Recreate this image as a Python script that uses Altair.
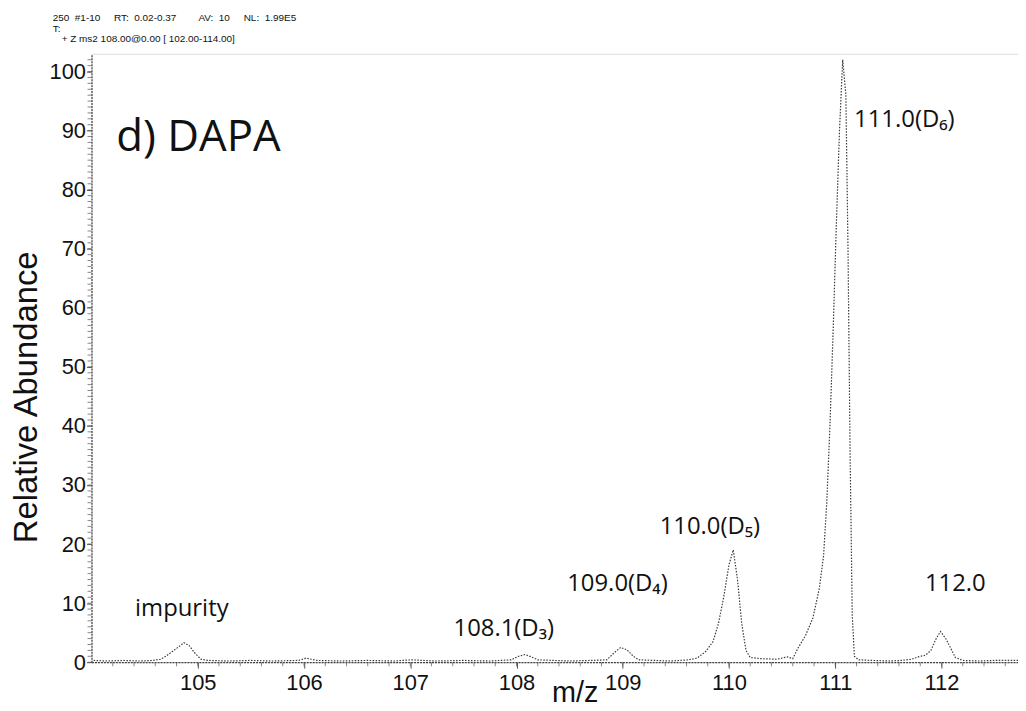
import altair as alt
import pandas as pd

# ---- profile spectrum (m/z, relative abundance) ----
mz = [104.02, 104.15, 104.3, 104.45, 104.58, 104.65, 104.7, 104.76, 104.82, 104.87,
      104.92, 104.97, 105.03, 105.1, 105.3, 105.5, 105.7, 105.95, 106.02, 106.07,
      106.12, 106.35, 106.6, 106.85, 107.0, 107.25, 107.5, 107.75, 107.95, 108.02,
      108.08, 108.14, 108.2, 108.35, 108.5, 108.7, 108.85, 108.92, 108.98, 109.04,
      109.1, 109.15, 109.3, 109.45, 109.62, 109.7, 109.78, 109.85, 109.9, 109.95,
      110.0, 110.04, 110.08, 110.12, 110.16, 110.2, 110.3, 110.45, 110.55, 110.6,
      110.65, 110.72, 110.79, 110.85, 110.89, 110.92, 110.95, 110.98, 111.01, 111.04,
      111.07, 111.1, 111.12, 111.14, 111.16, 111.18, 111.22, 111.35, 111.5, 111.62,
      111.72, 111.78, 111.85, 111.9, 111.95, 111.99, 112.04, 112.08, 112.13, 112.2,
      112.35, 112.5, 112.72]
abundance = [0.3, 0.2, 0.3, 0.2, 0.3, 0.5, 1.0, 1.8, 2.6, 3.3,
             2.8, 1.6, 0.5, 0.3, 0.2, 0.3, 0.2, 0.3, 0.7, 0.5,
             0.3, 0.2, 0.3, 0.2, 0.4, 0.2, 0.3, 0.2, 0.4, 1.0,
             1.3, 0.9, 0.4, 0.3, 0.2, 0.3, 0.4, 1.6, 2.5, 2.1,
             1.0, 0.4, 0.3, 0.2, 0.4, 0.7, 1.8, 3.5, 6.5, 11.0,
             16.5, 19.0, 14.0, 6.5, 2.0, 0.8, 0.6, 0.5, 0.9, 0.6,
             2.4, 4.5, 7.5, 12.5, 18.0, 27.0, 40.0, 56.0, 74.0, 90.0,
             102.0, 96.0, 70.0, 35.0, 8.0, 1.0, 0.4, 0.3, 0.2, 0.3,
             0.5, 0.9, 1.2, 2.0, 4.0, 5.2, 4.0, 2.6, 0.8, 0.3,
             0.2, 0.3, 0.3]

# ---- peak annotations ----
label_text = ["impurity", "108.1(D\u2083)", "109.0(D\u2084)", "110.0(D\u2085)", "111.0(D\u2086)", "112.0"]
label_mz = [104.85, 107.88, 108.95, 109.82, 111.65, 112.13]
label_ab = [7.9, 4.4, 12.1, 21.7, 90.6, 12.1]

# ---- axis ticks ----
x_major = [105, 106, 107, 108, 109, 110, 111, 112]
y_major = [0, 10, 20, 30, 40, 50, 60, 70, 80, 90, 100]
x_minor = [round(104.2 + 0.2 * i, 1) for i in range(43)]
y_minor = list(range(0, 103))

NB = "\u00a0"
header_1 = ("250" + NB * 2 + "#1-10" + NB * 5 + "RT:" + NB * 2 + "0.02-0.37" + NB * 8
            + "AV:" + NB * 2 + "10" + NB * 5 + "NL:" + NB * 2 + "1.99E5")
header_2 = "T:"
header_3 = "+ Z ms2 108.00@0.00 [ 102.00-114.00]"
panel_label = "d) DAPA"

spec = pd.DataFrame({"mz": mz, "ab": abundance})
labels = pd.DataFrame({"t": label_text, "mz": label_mz, "ab": label_ab})
xminor_df = pd.DataFrame({"mz": x_minor})
yminor_df = pd.DataFrame({"ab": y_minor})

W, H = 932, 612

xscale = alt.Scale(domain=[104.0, 112.72], nice=False, zero=False)
yscale = alt.Scale(domain=[0, 103], nice=False, zero=True)

xaxis = alt.Axis(
    values=x_major, format="d",
    labelFont="Liberation Sans", labelFontSize=22, labelColor="#111",
    labelPadding=4, tickSize=6, tickColor="#555", tickWidth=1,
    domainColor="#444", domainDash=[2, 1], domainWidth=1.2,
    grid=False,
    title="m/z", titleFont="Liberation Sans", titleFontSize=29, titleFontWeight="normal",
    titleColor="#111", titleX=486, titleY=40, titleBaseline="alphabetic", titleAlign="center",
)
yaxis = alt.Axis(
    values=y_major, format="d",
    labelFont="Liberation Sans", labelFontSize=22, labelColor="#111",
    labelPadding=1, tickSize=5, tickColor="#555", tickWidth=1,
    domainColor="#444", domainDash=[2, 1], domainWidth=1.2,
    grid=False,
    title="Relative Abundance", titleFont="Liberation Sans", titleFontSize=33,
    titleFontWeight="normal", titleColor="#111",
    titleX=-65, titleY=345, titleBaseline="middle", titleAlign="center", titleAngle=-90,
)

X = alt.X("mz:Q", scale=xscale, axis=xaxis, title="m/z")
Y = alt.Y("ab:Q", scale=yscale, axis=yaxis, title="Relative Abundance")

line = alt.Chart(spec).mark_line(
    color="#3a3a3a", strokeWidth=1.2, strokeDash=[1.5, 1.5], interpolate="linear"
).encode(x=X, y=Y)

yminor = alt.Chart(yminor_df).mark_tick(
    color="#555", thickness=1, size=4, orient="horizontal"
).encode(y=Y, x=alt.value(-2))

xminor = alt.Chart(xminor_df).mark_tick(
    color="#555", thickness=1, size=4, orient="vertical"
).encode(x=X, y=alt.value(H + 2))

peak_labels = alt.Chart(labels).mark_text(
    font="Open Sans", fontSize=24, align="center", baseline="alphabetic", color="#111"
).encode(x=X, y=Y, text="t:N")

one = pd.DataFrame({"a": [0]})

def fixed_text(txt, px, py, size, font, weight="normal"):
    return alt.Chart(one).mark_text(
        text=txt, font=font, fontSize=size, fontWeight=weight, align="left",
        baseline="alphabetic", color="#111"
    ).encode(x=alt.value(px), y=alt.value(py))

h1 = fixed_text(header_1, -39, -33, 10, "Liberation Sans")
h2 = fixed_text(header_2, -39, -22, 10, "Liberation Sans")
h3 = fixed_text(header_3, -30, -12, 10, "Liberation Sans")
panel = fixed_text(panel_label, 25, 98, 44, "Open Sans")

chart = alt.layer(line, yminor, xminor, peak_labels, h1, h2, h3, panel).properties(
    width=W, height=H,
    autosize=alt.AutoSizeParams(type="none"),
    padding={"left": 84, "top": 44, "right": 0, "bottom": 47},
).configure_view(stroke=None).configure(background="white")

chart.save("out.html", embed_options={"renderer": "svg", "actions": False})
